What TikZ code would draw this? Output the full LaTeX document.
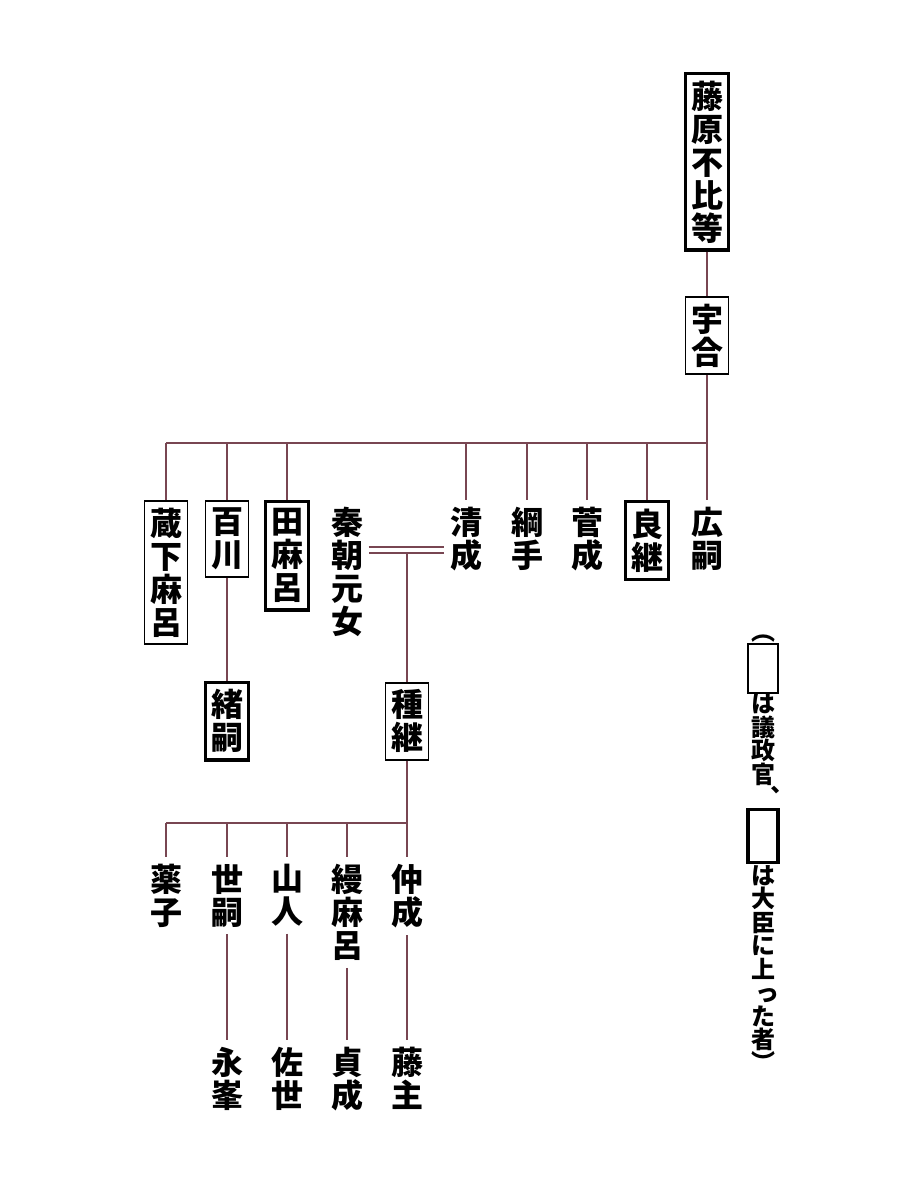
\documentclass[tikz,border=0pt]{standalone}
\usepackage{fontspec}
\newfontfamily\kanji{Noto Sans CJK JP}
\usetikzlibrary{positioning}
\definecolor{lineage}{RGB}{120,70,82}
\lineskiplimit=-10pt

\begin{document}
\begin{tikzpicture}[x=1pt,y=-1pt,
        person/.style={font=\kanji\bfseries\fontsize{32}{33}\selectfont, align=center, anchor=north, inner xsep=5.5pt, inner ysep=7pt, minimum width=43pt},
        giseikan/.style={person, draw, line width=1.5pt},
        daijin/.style={person, draw, line width=3.3pt},
        link/.style={draw=lineage, line width=2.4pt},
        notetext/.style={font=\kanji\bfseries\fontsize{24}{23.5}\selectfont, align=center, inner sep=0pt},
        notebox/.style={draw, minimum width=30pt, inner sep=0pt}]
        \useasboundingbox (0,0) rectangle (900,1194);
        \node[daijin] (fuhito) at (707,72) {藤\\原\\不\\比\\等};
        \node[giseikan] (umakai) at (707,296) {宇\\合};
        \coordinate (bar) at (707,443);
        \node[giseikan] (kurajimaro) at (166,500) {蔵\\下\\麻\\呂};
        \node[giseikan] (momokawa) at (227,500) {百\\川};
        \node[daijin] (tamaro) at (287,500) {田\\麻\\呂};
        \node[person] (hatamusume) at (347,500) {秦\\朝\\元\\女};
        \node[person] (kiyonari) at (466,500) {清\\成};
        \node[person] (tsunate) at (527,500) {綱\\手};
        \node[person] (sugenari) at (587,500) {菅\\成};
        \node[daijin] (yoshitsugu) at (647,500) {良\\継};
        \node[person] (hirotsugu) at (707,500) {広\\嗣};
        \node[daijin] (otsugu) at (227,681) {緒\\嗣};
        \coordinate (wed) at (407,550);
        \coordinate (tie) at (407,553);
        \node[giseikan] (tanetsugu) at (407,682) {種\\継};
        \coordinate (bar2) at (407,823);
        \node[person] (kusuko) at (166,857) {薬\\子};
        \node[person] (yotsugu) at (227,857) {世\\嗣};
        \node[person] (yamahito) at (287,857) {山\\人};
        \node[person] (katsuramaro) at (347,857) {縵\\麻\\呂};
        \node[person] (nakanari) at (407,857) {仲\\成};
        \node[person] (nagamine) at (227,1040) {永\\峯};
        \node[person] (suke) at (287,1040) {佐\\世};
        \node[person] (sadanari) at (347,1040) {貞\\成};
        \node[person] (fujinushi) at (407,1040) {藤\\主};
        % lines
        \draw[link] (fuhito) -- (umakai);
        \draw[link] (umakai) -- (bar) -- (hirotsugu);
        \draw[link] (bar) -- (bar -| kurajimaro.north);
        \foreach \n in {kurajimaro,momokawa,tamaro,kiyonari,tsunate,sugenari,yoshitsugu}
          \draw[link] (bar -| \n.north) -- (\n);
        \draw[link] (momokawa) -- (otsugu);
        \draw[link, double=white, double distance=3.6pt] (hatamusume.east |- wed) -- (kiyonari.west |- wed);
        \draw[link] (tie) -- (tanetsugu);
        \draw[link] (tanetsugu) -- (bar2) -- (nakanari);
        \draw[link] (bar2) -- (bar2 -| kusuko.north);
        \foreach \n in {kusuko,yotsugu,yamahito,katsuramaro}
          \draw[link] (bar2 -| \n.north) -- (\n);
        \draw[link] (yotsugu) -- (nagamine);
        \draw[link] (yamahito) -- (suke);
        \draw[link] (katsuramaro) -- (sadanari);
        \draw[link] (nakanari) -- (fujinushi);
        % key
        \node[notetext, anchor=south] (open) at (763,643) {︵};
        \node[notebox, line width=1.5pt, minimum height=49pt, below=0pt of open] (keybox1) {};
        \node[notetext, below=0pt of keybox1] (keytext1) {は\\議\\政\\官\\\hspace*{10pt}︑};
        \node[notebox, line width=3.3pt, minimum height=53pt, below=1pt of keytext1] (keybox2) {};
        \node[notetext, below=1pt of keybox2] (keytext2) {は\\大\\臣\\に\\上\\\hspace*{8pt}っ\\た\\者};
        \node[notetext, below=0pt of keytext2] (close) {︶};
\end{tikzpicture}
\end{document}
